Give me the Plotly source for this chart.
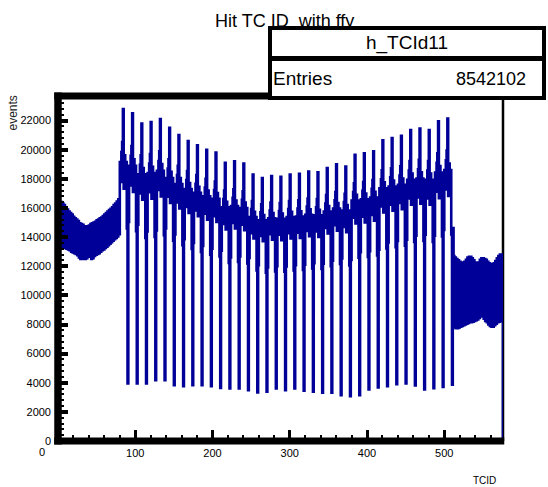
import plotly.graph_objects as go

# ---------------- data ----------------
title_text = "Hit TC ID \u00a0with ffy"
hist_name = "h_TCId11"
entries_label = "Entries"
entries_value = "8542102"
x_title = "TCID"
y_title = "events"
x_tick_vals = [0, 100, 200, 300, 400, 500]
x_tick_text = ["", "100", "200", "300", "400", "500"]

# forward endcap, TC 0-79
forward_counts = [
    16500, 13300, 16450, 13350, 16400, 13300, 16300, 13250, 16200, 13300,
    16050, 13200, 15900, 13150, 15750, 13100, 15650, 13000, 15550, 12950,
    15400, 12900, 15300, 12850, 15200, 12750, 15100, 12600, 14950, 12500,
    14900, 12500, 14850, 12500, 14750, 12500, 14700, 12550, 14750, 12700,
    14800, 12650, 14900, 12500, 14950, 12550, 15000, 12700, 15050, 12800,
    15150, 12850, 15200, 12900, 15300, 13000, 15350, 13100, 15450, 13150,
    15550, 13250, 15650, 13350, 15750, 13450, 15850, 13550, 15950, 13650,
    16050, 13750, 16200, 13850, 16300, 13950, 16450, 14050, 16600, 14200,
]

# barrel, TC 80-511 : 36 phi sectors x 12 theta rings
barrel_counts = [
    [19150, 17780, 19840, 20520, 22800, 17330, 19610, 17780, 19150, 14590, 3950, 15050],
    [18900, 17550, 19580, 20250, 22500, 17100, 19350, 17550, 18900, 14400, 3950, 14850],
    [18310, 17000, 18970, 19620, 21800, 16570, 18750, 17000, 18310, 13950, 3950, 14390],
    [18400, 17080, 19050, 19710, 21900, 16640, 18830, 17080, 18400, 14020, 4180, 14450],
    [18560, 17240, 19230, 19890, 22100, 16800, 19010, 17240, 18560, 14140, 4180, 14590],
    [18060, 16770, 18710, 19350, 21500, 16340, 18490, 16770, 18060, 13760, 3840, 14190],
    [17640, 16380, 18270, 18900, 21000, 15960, 18060, 16380, 17640, 13440, 3770, 13860],
    [17300, 16070, 17920, 18540, 20600, 15660, 17720, 16070, 17300, 13180, 3840, 13600],
    [17050, 15830, 17660, 18270, 20300, 15430, 17460, 15830, 17050, 12990, 3840, 13400],
    [16800, 15600, 17400, 18000, 20000, 15200, 17200, 15600, 16800, 12800, 3770, 13200],
    [16630, 15440, 17230, 17820, 19800, 15050, 17030, 15440, 16630, 12670, 3650, 13070],
    [16040, 14900, 16620, 17190, 19100, 14520, 16430, 14900, 16040, 12220, 3610, 12610],
    [16130, 14980, 16700, 17280, 19200, 14590, 16510, 14980, 16130, 12290, 3610, 12670],
    [16000, 14860, 16570, 17150, 19050, 14480, 16380, 14860, 16000, 12190, 3490, 12570],
    [15370, 14270, 15920, 16470, 18300, 13910, 15740, 14270, 15370, 11710, 3330, 12080],
    [15160, 14080, 15700, 16250, 18050, 13720, 15520, 14080, 15160, 11550, 3380, 11910],
    [15290, 14200, 15830, 16380, 18200, 13830, 15650, 14200, 15290, 11650, 3610, 12010],
    [15250, 14160, 15790, 16340, 18150, 13790, 15610, 14160, 15250, 11620, 3490, 11980],
    [15370, 14270, 15920, 16470, 18300, 13910, 15740, 14270, 15370, 11710, 3610, 12080],
    [15410, 14310, 15960, 16520, 18350, 13950, 15780, 14310, 15410, 11740, 3450, 12110],
    [15540, 14430, 16100, 16650, 18500, 14060, 15910, 14430, 15540, 11840, 3380, 12210],
    [15500, 14390, 16050, 16610, 18450, 14020, 15870, 14390, 15500, 11810, 3310, 12180],
    [15750, 14630, 16310, 16880, 18750, 14250, 16130, 14630, 15750, 12000, 3310, 12380],
    [15960, 14820, 16530, 17100, 19000, 14440, 16340, 14820, 15960, 12160, 3150, 12540],
    [15830, 14700, 16400, 16970, 18850, 14330, 16210, 14700, 15830, 12060, 3080, 12440],
    [16510, 15330, 17100, 17690, 19650, 14930, 16900, 15330, 16510, 12580, 3150, 12970],
    [16590, 15410, 17180, 17780, 19750, 15010, 16990, 15410, 16590, 12640, 3540, 13040],
    [16720, 15520, 17310, 17910, 19900, 15120, 17110, 15520, 16720, 12740, 3680, 13130],
    [17350, 16110, 17970, 18590, 20650, 15690, 17760, 16110, 17350, 13220, 3770, 13630],
    [17470, 16220, 18100, 18720, 20800, 15810, 17890, 16220, 17470, 13310, 3900, 13730],
    [17600, 16340, 18230, 18860, 20950, 15920, 18020, 16340, 17600, 13410, 3950, 13830],
    [17930, 16650, 18570, 19220, 21350, 16230, 18360, 16650, 17930, 13660, 3820, 14090],
    [18020, 16730, 18660, 19310, 21450, 16300, 18450, 16730, 18020, 13730, 3540, 14160],
    [17930, 16650, 18570, 19220, 21350, 16230, 18360, 16650, 17930, 13660, 3620, 14090],
    [18440, 17120, 19100, 19760, 21950, 16680, 18880, 17120, 18440, 14050, 3710, 14490],
    [18610, 17280, 19270, 19940, 22150, 16830, 19050, 17280, 18610, 14180, 3860, 14620],
]

# backward endcap, TC 512-575
backward_counts = [
    12700, 7800, 12600, 7750, 12500, 7750, 12400, 7800, 12300, 7850,
    12250, 7900, 12250, 7950, 12300, 8000, 12450, 8050, 12600, 8100,
    12650, 8150, 12650, 8150, 12550, 8200, 12400, 8250, 12250, 8300,
    12200, 8350, 12250, 8450, 12450, 8550, 12550, 8550, 12550, 8400,
    12500, 8250, 12450, 8150, 12300, 8000, 12200, 7900, 12150, 7850,
    12150, 7850, 12200, 7950, 12350, 8050, 12550, 8150, 12700, 8200,
    12800, 8250, 12800, 12700,
]

# ---------------- build histogram outline ----------------
counts = forward_counts + [v for row in barrel_counts for v in row] + backward_counts
n_bins = len(counts)
x_min, x_max = 0, n_bins
y_max = 23690

xs = list(range(n_bins)) + [n_bins, n_bins]
ys = counts + [counts[-1], 0]

# ---------------- page geometry ----------------
W, H = 548, 487
ML, MR, MT, MB = 58, 45, 96, 46
PW, PH = W - ML - MR, H - MT - MB


def fx(px):
    return (px - ML) / PW


def fy(py):
    return (H - MB - py) / PH


FONT = "Liberation Sans, Arial, sans-serif"
BLUE = "#000099"

fig = go.Figure()
fig.add_trace(go.Scatter(
    x=xs, y=ys, mode="lines",
    line=dict(color=BLUE, width=2.6, shape="hv", simplify=False),
    hoverinfo="skip", showlegend=False,
))

shapes = [
    # right frame (under the histogram)
    dict(type="line", xref="paper", yref="paper", x0=1, x1=1, y0=0, y1=1,
         line=dict(color="black", width=2.5), layer="below"),
    # left frame
    dict(type="line", xref="paper", yref="paper", x0=0, x1=0,
         y0=-3.5 / PH, y1=1 + 3.5 / PH, line=dict(color="black", width=7.5), layer="above"),
    # bottom frame
    dict(type="line", xref="paper", yref="paper", x0=-3.75 / PW, x1=1 + 1.25 / PW,
         y0=0, y1=0, line=dict(color="black", width=7), layer="above"),
    # top frame
    dict(type="line", xref="paper", yref="paper", x0=-3.75 / PW, x1=1 + 1.25 / PW,
         y0=1, y1=1, line=dict(color="black", width=7), layer="above"),
]

annotations = [
    dict(text=title_text, x=fx(213), y=fy(20.5), xanchor="left", yanchor="middle",
         font=dict(family=FONT, size=18, color="black")),
    # stats box, row 1
    dict(text=hist_name, x=fx(268), y=fy(26), xanchor="left", yanchor="top",
         width=270, height=26, borderwidth=4, borderpad=0, bordercolor="black",
         bgcolor="white", align="center", valign="middle",
         font=dict(family=FONT, size=19, color="black")),
    # stats box, row 2
    dict(text=" ", x=fx(268), y=fy(57), xanchor="left", yanchor="top",
         width=270, height=35, borderwidth=4, borderpad=0, bordercolor="black",
         bgcolor="white", font=dict(family=FONT, size=19, color="black")),
    dict(text=entries_label, x=fx(271), y=fy(79), xanchor="left", yanchor="middle",
         font=dict(family=FONT, size=19, color="black")),
    dict(text=entries_value, x=fx(528), y=fy(79), xanchor="right", yanchor="middle",
         font=dict(family=FONT, size=18, color="black")),
    dict(text=y_title, x=fx(12.5), y=fy(113), xanchor="center", yanchor="middle",
         textangle=-90, font=dict(family=FONT, size=12, color="#222222")),
    dict(text=x_title, x=fx(484), y=fy(480), xanchor="center", yanchor="middle",
         font=dict(family=FONT, size=10, color="black")),
    dict(text="0", x=fx(42), y=fy(452), xanchor="center", yanchor="middle",
         font=dict(family=FONT, size=11, color="black")),
]
for a in annotations:
    a["xref"] = "paper"
    a["yref"] = "paper"
    a["showarrow"] = False

fig.update_layout(
    width=W, height=H,
    margin=dict(l=ML, r=MR, t=MT, b=MB, pad=0),
    paper_bgcolor="white", plot_bgcolor="white",
    showlegend=False,
    shapes=shapes,
    annotations=annotations,
    xaxis=dict(
        range=[x_min, x_max], showgrid=False, zeroline=False, showline=False,
        tickmode="array", tickvals=x_tick_vals, ticktext=x_tick_text,
        ticks="inside", ticklen=11, tickwidth=3, tickcolor="black",
        minor=dict(tickmode="linear", tick0=0, dtick=20, ticks="inside",
                   ticklen=6, tickwidth=2, tickcolor="black"),
        tickfont=dict(family=FONT, size=11, color="black"),
        ticklabelstandoff=4,
        fixedrange=True,
    ),
    yaxis=dict(
        range=[0, y_max], showgrid=False, zeroline=False, showline=False,
        tickmode="linear", tick0=0, dtick=2000, tickformat="d",
        ticks="inside", ticklen=10, tickwidth=4, tickcolor="black",
        minor=dict(tickmode="linear", tick0=0, dtick=400, ticks="inside",
                   ticklen=6, tickwidth=2, tickcolor="black"),
        tickfont=dict(family=FONT, size=11, color="black"),
        ticklabelstandoff=6,
        fixedrange=True,
    ),
)

fig.write_html("out.html", config={"displayModeBar": False},
               post_script="document.body.style.margin='0px';")
